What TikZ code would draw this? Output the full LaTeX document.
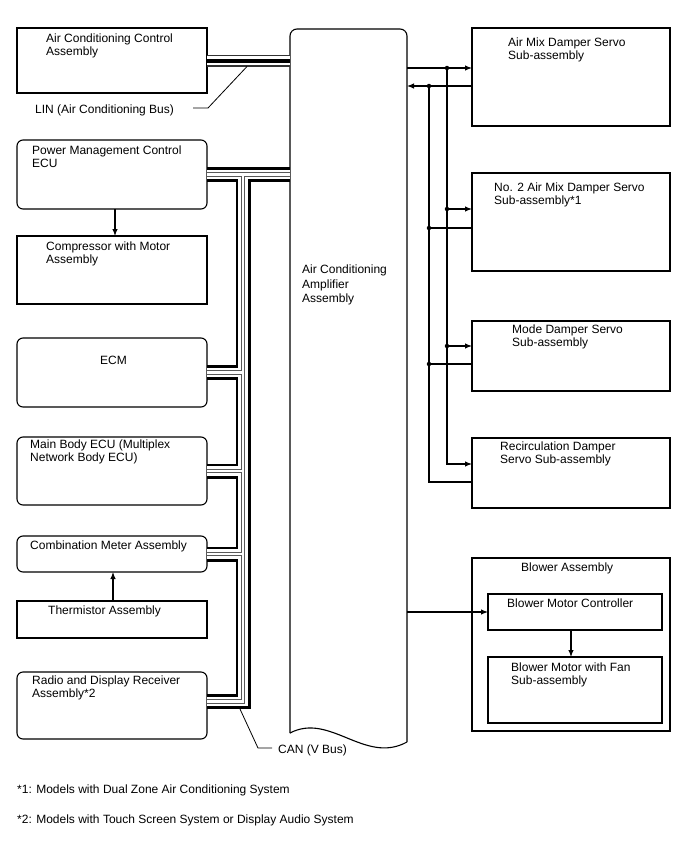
\documentclass[tikz,border=0pt]{standalone}
\usepackage{fontspec}
\setmainfont{Liberation Sans}
\usetikzlibrary{arrows.meta}
\newcommand\mkbox[6]{\node[#2, minimum width={#5-#3}, minimum height={#6-#4}, inner sep=0pt, outer sep=0pt] (#1) at ({(#3+#5)/2},{(#4+#6)/2}) {};}
\begin{document}
\begin{tikzpicture}[x=1pt,y=-1pt,
  box/.style={draw, line width=1.1pt},
  rbox/.style={draw, line width=1.1pt, rounded corners=6pt},
  txt/.style={anchor=north west, inner sep=0pt, align=left, font=\fontsize{12}{13}\selectfont},
  btxt/.style={anchor=base west, inner sep=0pt, font=\fontsize{12}{13}\selectfont},
  arr/.style={-{Latex[length=7pt,width=5.5pt]}, line width=1.1pt},
  conn/.style={line width=1.1pt},
  lead/.style={line width=0.8pt},
  dot/.style={circle, fill, inner sep=0pt, minimum size=4.5pt}]
\useasboundingbox[fill=white] (0,0) rectangle (688,852);

% left column
\mkbox{acc}{box}{17}{28}{207}{93}
\mkbox{pm}{rbox}{17}{140}{207}{209}
\mkbox{comp}{box}{17}{236}{207}{304}
\mkbox{ecm}{rbox}{17}{338}{207}{407}
\mkbox{mb}{rbox}{17}{437}{207}{505}
\mkbox{cm}{rbox}{17}{536}{207}{572}
\mkbox{th}{box}{17}{601}{207}{638}
\mkbox{radio}{rbox}{17}{672}{207}{739}
% amplifier (outline drawn separately)
\mkbox{amp}{}{290}{29}{407}{740}
\draw[line width=1.1pt, rounded corners=7pt] (amp.south west) ++(0,-7) -- (amp.north west) -- (amp.north east) -- ([yshift=-2pt]amp.south east);
\draw[line width=1.1pt] ([yshift=-2pt]amp.south east) .. controls (365,765) and (330,712) .. ([yshift=7pt]amp.south west);
% right column
\mkbox{am}{box}{472}{28}{670}{126}
\mkbox{no2}{box}{472}{173}{670}{271}
\mkbox{mode}{box}{472}{321}{670}{391}
\mkbox{rec}{box}{472}{438}{670}{508}
\mkbox{bl}{box}{472}{558}{670}{731}
\mkbox{bmc}{box}{488}{594}{662}{630}
\mkbox{fan}{box}{488}{657}{662}{723}

% texts
\node[txt] (tacc) at (46,34) {Air Conditioning Control\\Assembly};
\node[btxt] (tlin) at (35,113) {LIN (Air Conditioning Bus)};
\node[txt] (tpm) at (32,146) {Power Management Control\\ECU};
\node[txt] (tcomp) at (46,242) {Compressor with Motor\\Assembly};
\node[txt] (tecm) at (100,356) {ECM};
\node[txt] (tmb) at (30,440) {Main Body ECU (Multiplex\\Network Body ECU)};
\node[txt] (tcm) at (30,541) {Combination Meter Assembly};
\node[txt] (tth) at (48,606) {Thermistor Assembly};
\node[txt] (tradio) at (32,676) {Radio and Display Receiver\\Assembly*2};
\node[txt, font=\fontsize{12}{14.5}\selectfont] (tamp) at (302,265) {Air Conditioning\\Amplifier\\Assembly};
\node[txt] (tam) at (508,38) {Air Mix Damper Servo\\Sub-assembly};
\node[txt] (tno2) at (494,183) {No. 2 Air Mix Damper Servo\\Sub-assembly*1};
\node[txt] (tmode) at (512,325) {Mode Damper Servo\\Sub-assembly};
\node[txt] (trec) at (500,442) {Recirculation Damper\\Servo Sub-assembly};
\node[txt] (tbl) at (521,563) {Blower Assembly};
\node[txt] (tbmc) at (507,599) {Blower Motor Controller};
\node[txt] (tfan) at (511,663) {Blower Motor with Fan\\Sub-assembly};
\node[btxt] (tcan) at (278,753) {CAN (V Bus)};
\node[btxt] (f1) at (17,793) {*1: Models with Dual Zone Air Conditioning System};
\node[btxt] (f2) at (17,823) {*2: Models with Touch Screen System or Display Audio System};

% LIN bus
\foreach \w/\c in {12/black!80, 9.6/white, 4/black}
  \draw[line width=\w pt, \c] (acc.east) -- (amp.west |- acc.east);
\coordinate (linA) at (193,108);
\coordinate (linB) at (208,108);
\coordinate (linC) at (247,66.5);
\draw[lead] (linA) -- (linB) -- (linC);

% CAN bus
\coordinate (tt) at (243,174);
\coordinate (rb) at ([yshift=4pt]radio.east);
\foreach \w/\c in {15/black, 9.5/white, 4.6/black!65, 2.2/white}
  \draw[line width=\w pt, \c, line join=miter]
    (pm.east) -- (amp.west |- pm.east)
    (tt) -- (tt |- rb) -- (rb)
    (ecm.east) -- (tt |- ecm.east)
    (mb.east) -- (tt |- mb.east)
    (cm.east) -- (tt |- cm.east);
\coordinate (canA) at (240,709);
\coordinate (canB) at (258,748);
\coordinate (canC) at (272,748);
\draw[lead] (canA) -- (canB) -- (canC);

% local arrows
\draw[arr] ([xshift=3pt]pm.south) -- ([xshift=3pt]pm.south |- comp.north);
\draw[arr] ([xshift=1pt]th.north) -- ([xshift=1pt]th.north |- cm.south);
\draw[arr] (amp.east |- bmc.west) -- (bmc.west);
\draw[arr] ([xshift=-4pt]bmc.south) -- ([xshift=-4pt]bmc.south |- fan.north);

% damper servo connectors
\coordinate (d1) at (447,68);
\coordinate (d2) at (429,86);
\coordinate (n2a) at ([yshift=-36pt]no2.north west);
\coordinate (n2b) at ([yshift=-55pt]no2.north west);
\coordinate (mda) at ([yshift=-25pt]mode.north west);
\coordinate (mdb) at ([yshift=-43pt]mode.north west);
\coordinate (rca) at ([yshift=-26pt]rec.north west);
\coordinate (rcb) at ([yshift=-44pt]rec.north west);
\coordinate (d3) at (d1 |- n2a);
\coordinate (d4) at (d2 |- n2b);
\coordinate (d5) at (d1 |- mda);
\coordinate (d6) at (d2 |- mdb);
\draw[arr] (amp.east |- d1) -- (am.west |- d1);
\draw[arr] (am.west |- d2) -- (amp.east |- d2);
\draw[arr] (d1) |- (rca);
\draw[conn] (d2) |- (rcb);
\draw[arr] (d3) -- (n2a);
\draw[conn] (n2b) -- (d4);
\draw[arr] (d5) -- (mda);
\draw[conn] (mdb) -- (d6);
\foreach \p in {d1,d2,d3,d4,d5,d6} \node[dot] at (\p) {};
\end{tikzpicture}
\end{document}
